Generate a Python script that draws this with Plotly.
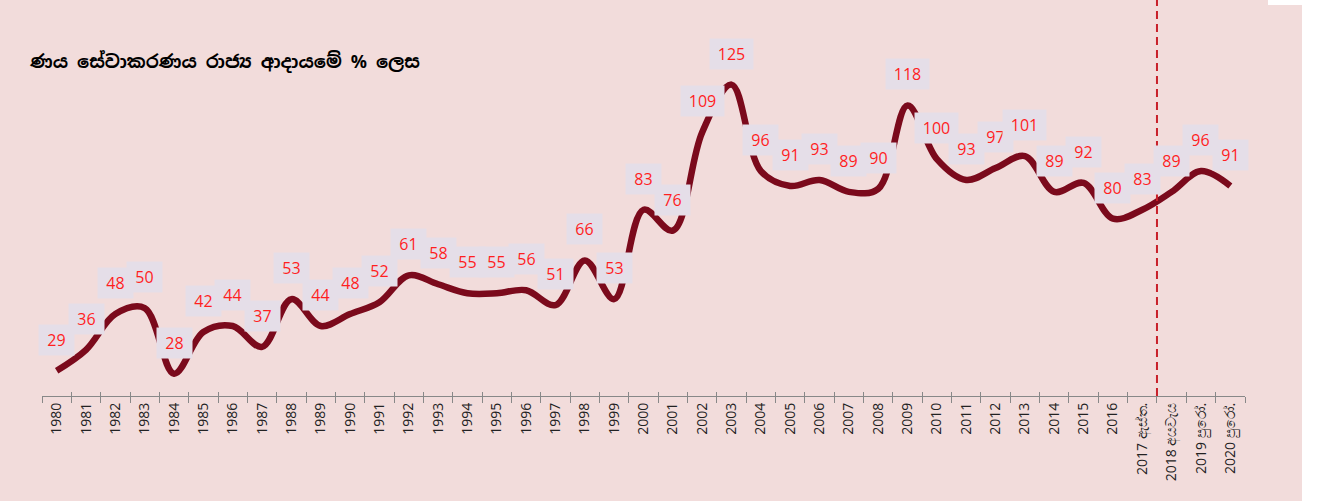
import plotly.graph_objects as go

years = [str(y) for y in range(1980, 2017)] + ["2017 ඇස්ත.", "2018 අයවැය", "2019 පුරෝ.", "2020 පුරෝ."]
values = [29, 36, 48, 50, 28, 42, 44, 37, 53, 44, 48, 52, 61, 58, 55, 55, 56, 51, 66, 53,
          83, 76, 109, 125, 96, 91, 93, 89, 90, 118, 100, 93, 97, 101, 89, 92, 80, 83, 89, 96, 91]
title_text = "ණය සේවාකරණය රාජ්‍ය ආදායමේ % ලෙස"

W, H = 1318, 501
ML, MR, MT, MB = 42, 73, 0, 105
PW = W - ML - MR
PH = H - MT - MB
PINK = "#f2dcdb"

fig = go.Figure()
fig.add_trace(go.Scatter(
    x=years, y=values, mode="lines",
    line=dict(color="#7b0a1c", width=6.5, shape="spline", smoothing=1.0),
    hoverinfo="skip", showlegend=False,
))
# overlay axis for the inside part of tick marks
fig.add_trace(go.Scatter(x=[0], y=[None], xaxis="x2", yaxis="y", showlegend=False, hoverinfo="skip"))

for i, v in enumerate(values):
    s = str(v)
    fig.add_annotation(
        x=i, y=v, xref="x", yref="y", text=s, showarrow=False, yshift=31,
        bgcolor="#e5dee8", width=35 if len(s) > 2 else 27, height=22,
        borderpad=4,
        font=dict(family="Open Sans, Liberation Sans, sans-serif", size=16, color="#ff1f1f"),
    )

def px_x(p):
    return (p - ML) / PW

def px_y(p):
    return 1 - (p - MT) / PH

fig.add_annotation(
    xref="paper", yref="paper", x=px_x(27), y=px_y(61), xanchor="left", yanchor="middle",
    text="<b>" + title_text + "</b>", showarrow=False,
    font=dict(family="Noto Sans Sinhala, Noto Sans, DejaVu Sans, sans-serif", size=18, color="#000000"),
)

# dashed separator between actual and projected years
fig.add_shape(type="line", xref="x", yref="paper", x0=37.5, x1=37.5, y0=0, y1=1,
              line=dict(color="#c8202a", width=2, dash="8px,5px"))

# white regions outside the chart frame
fig.add_shape(type="rect", xref="paper", yref="paper", x0=px_x(1302), x1=px_x(W + 5),
              y0=px_y(H + 5), y1=px_y(-5), fillcolor="white", line=dict(width=0), layer="above")
fig.add_shape(type="rect", xref="paper", yref="paper", x0=px_x(1268), x1=px_x(W + 5),
              y0=px_y(5), y1=px_y(-5), fillcolor="white", line=dict(width=0), layer="above")

fig.update_layout(
    width=W, height=H,
    margin=dict(l=ML, r=MR, t=MT, b=MB),
    paper_bgcolor=PINK, plot_bgcolor=PINK,
    showlegend=False,
    xaxis=dict(
        type="category", range=[-0.5, len(years) - 0.5],
        tickson="boundaries", ticks="outside", ticklen=6, tickcolor="#888888",
        showline=True, linecolor="#888888", linewidth=1.2,
        showgrid=False, zeroline=False, tickangle=-90,
        tickfont=dict(family="Open Sans, Liberation Sans, sans-serif", size=14, color="#222222"),
    ),
    xaxis2=dict(
        overlaying="x", range=[-0.5, len(years) - 0.5], anchor="y",
        tickmode="array", tickvals=[i - 0.5 for i in range(len(years) + 1)],
        ticks="inside", ticklen=4, tickcolor="#888888", showticklabels=False,
        showgrid=False, zeroline=False, showline=False, side="bottom",
    ),
    yaxis=dict(range=[20.5, 153.4], visible=False, showgrid=False, zeroline=False),
)

fig.write_html("out.html", config={"displayModeBar": False},
               post_script="document.body.style.margin='0';")
